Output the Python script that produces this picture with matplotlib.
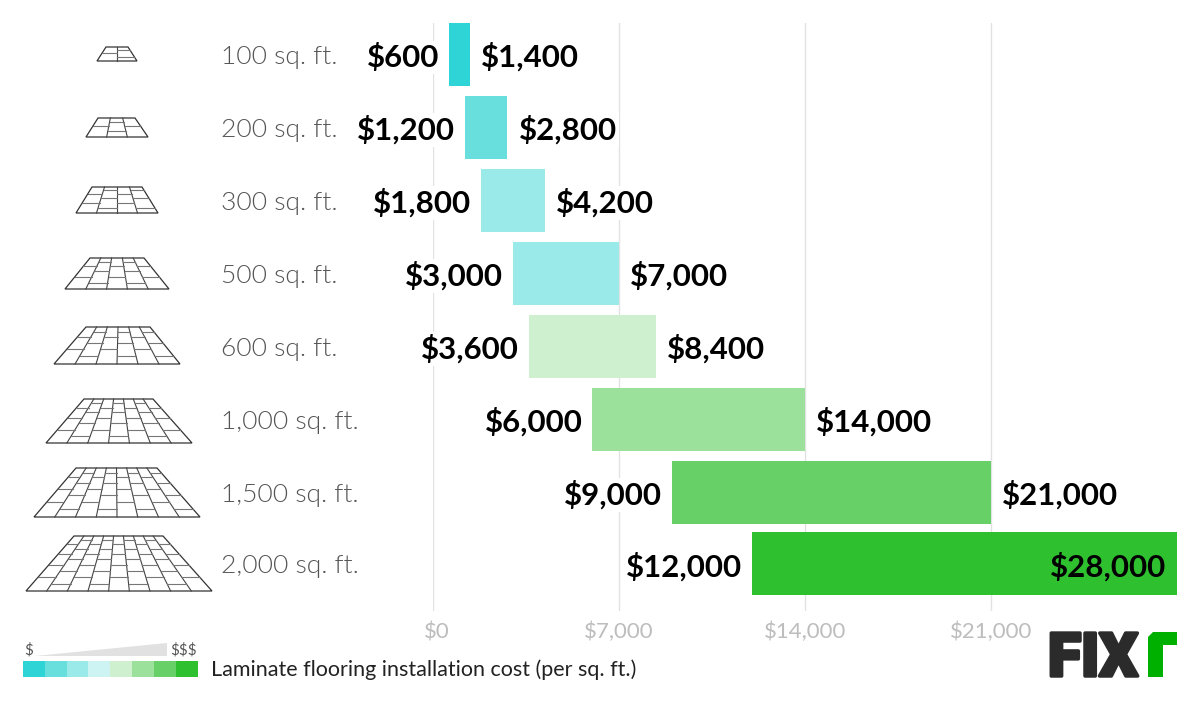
import matplotlib
matplotlib.use("Agg")
import matplotlib.pyplot as plt
import matplotlib.patheffects as pe
from matplotlib import font_manager as fm
from matplotlib.patches import Polygon, Rectangle
from matplotlib.transforms import ScaledTranslation

plt.rcParams['font.family'] = ['Lato', 'DejaVu Sans']

sizes = ["100 sq. ft.", "200 sq. ft.", "300 sq. ft.", "500 sq. ft.", "600 sq. ft.",
         "1,000 sq. ft.", "1,500 sq. ft.", "2,000 sq. ft."]
low = [600, 1200, 1800, 3000, 3600, 6000, 9000, 12000]
high = [1400, 2800, 4200, 7000, 8400, 14000, 21000, 28000]
bar_colors = ["#2fd4d6", "#68dedd", "#9aeaea", "#9aeaea", "#cff0cf", "#9be09b", "#67d067", "#2fc02f"]
legend_colors = ["#2fd4d6", "#68dedd", "#9aeaea", "#cdf3f3", "#cff0cf", "#9be09b", "#67d067", "#2fc02f"]
xticks = [0, 7000, 14000, 21000]
xticklabels = ["$0", "$7,000", "$14,000", "$21,000"]

# row centres in pixels, the last row sits a bit closer in the picture
row_y = [54.5, 127.5, 200.5, 273.5, 346.5, 419.5, 492.5, 563.8]

# icon outlines: top left, top right, top y, bottom left, bottom right, bottom y, columns, rows
icons = [
    (106, 128, 47, 97, 137, 61, 2, 2),
    (98, 135, 118, 86, 148, 137, 3, 2),
    (92, 142, 187, 76, 158, 213, 4, 3),
    (90, 144, 258, 65, 169, 289, 5, 3),
    (86, 150, 327, 54, 180, 364, 6, 3),
    (84, 153, 399, 46, 192, 443, 7, 4),
    (76, 157, 468, 34, 200, 517, 8, 4),
    (74, 163, 536, 26, 212, 591, 9, 5),
]

# Lato Light if there is a file for it, "light" on its own picks the hairline cut
light_files = [f.fname for f in fm.fontManager.ttflist
               if f.name == "Lato" and f.fname.endswith("Lato-Light.ttf")]
if light_files:
    label_font = fm.FontProperties(fname=light_files[0], size=19)
else:
    label_font = fm.FontProperties(family="Lato", size=18.5)

W, H = 1200, 701
fig = plt.figure(figsize=(W/100, H/100), dpi=100)
bg = fig.add_axes([0, 0, 1, 1])
bg.set_xlim(0, W)
bg.set_ylim(H, 0)
bg.axis("off")

ax = fig.add_axes([433/W, 1-611/H, (1177-433)/W, (611-23)/H])
ax.set_xlim(0, 28000)
ax.set_ylim(611, 23)
ax.patch.set_alpha(0)
for s in ax.spines.values():
    s.set_visible(False)
ax.set_yticks([])
ax.set_xticks(xticks)
ax.set_xticklabels(xticklabels, fontsize=16, color="#bdbdbd")
ax.tick_params(axis="x", length=0, pad=8)
ax.grid(axis="x", color="#e2e2e2", lw=1)
ax.set_axisbelow(True)
zero_label = ax.get_xticklabels()[0]
zero_label.set_transform(zero_label.get_transform()+ScaledTranslation(3/72, 0, fig.dpi_scale_trans))

halo = dict(fc="white", ec="none", pad=1.5)
for i in range(len(sizes)):
    ax.barh(row_y[i], high[i]-low[i], left=low[i], height=63, color=bar_colors[i])
    ax.annotate("$%s" % format(low[i], ","), (low[i], row_y[i]), xytext=(-7, -2), textcoords="offset points",
                ha="right", va="center", fontsize=22.5, fontweight="bold", color="black", bbox=halo)
    if high[i] == 28000:
        ax.annotate("$%s" % format(high[i], ","), (high[i], row_y[i]), xytext=(-8, -2), textcoords="offset points",
                    ha="right", va="center", fontsize=22.5, fontweight="bold", color="black")
    else:
        ax.annotate("$%s" % format(high[i], ","), (high[i], row_y[i]), xytext=(8, -2), textcoords="offset points",
                    ha="left", va="center", fontsize=22.5, fontweight="bold", color="black", bbox=halo)
    bg.text(221, row_y[i]+2.5, sizes[i], fontproperties=label_font, color="#555555", va="center", ha="left")


def tile_pt(icon, u, v):
    tl, tr, ty, bl, br, by = icon[:6]
    # v is depth, rows get taller toward the viewer
    v2 = v*(0.7+0.3*v)
    y = ty+(by-ty)*v2
    xl = tl+(bl-tl)*v2
    xr = tr+(br-tr)*v2
    return xl+(xr-xl)*u, y


for icon in icons:
    cols, rows = icon[6], icon[7]
    corners = [tile_pt(icon, 0, 0), tile_pt(icon, 1, 0), tile_pt(icon, 1, 1), tile_pt(icon, 0, 1)]
    bg.add_patch(Polygon(corners, closed=True, fc="white", ec="#333333", lw=0.9))
    for c in range(1, cols):
        p0, p1 = tile_pt(icon, c/cols, 0), tile_pt(icon, c/cols, 1)
        bg.plot([p0[0], p1[0]], [p0[1], p1[1]], color="#444444", lw=0.8)
    for c in range(cols):
        # every other column is shifted half a row
        r = 0.5 if c % 2 else 1
        while r < rows:
            p0, p1 = tile_pt(icon, c/cols, r/rows), tile_pt(icon, (c+1)/cols, r/rows)
            bg.plot([p0[0], p1[0]], [p0[1], p1[1]], color="#777777", lw=0.8)
            r += 1

# price legend
bg.add_patch(Polygon([(35, 656), (167, 656), (167, 643)], closed=True, fc="#e1e1e1", ec="none"))
bg.text(24, 650, "$", fontsize=11, color="#555555", va="center", ha="left")
bg.text(197, 650, "$$$", fontsize=11, color="#555555", va="center", ha="right")
sw = (197.5-23)/len(legend_colors)
for i, c in enumerate(legend_colors):
    bg.add_patch(Rectangle((23+sw*i, 661), sw, 16, fc=c, ec="none"))
bg.text(211, 670, "Laminate flooring installation cost (per sq. ft.)", fontsize=15.5, color="#222222",
        va="center", ha="left")

# logo
bg.text(1048, 676, "FIX", fontsize=43.5, fontweight="black", family=["Roboto", "DejaVu Sans"], color="#2b2b2b",
        va="baseline", ha="left", path_effects=[pe.withStroke(linewidth=2.5, foreground="#2b2b2b")])
bg.add_patch(Polygon([(1148, 677), (1148, 637), (1153, 632), (1177, 632), (1177, 645), (1163, 645), (1163, 677)],
                     closed=True, fc="#00b000", ec="none"))

plt.savefig("out.png", dpi=100)
